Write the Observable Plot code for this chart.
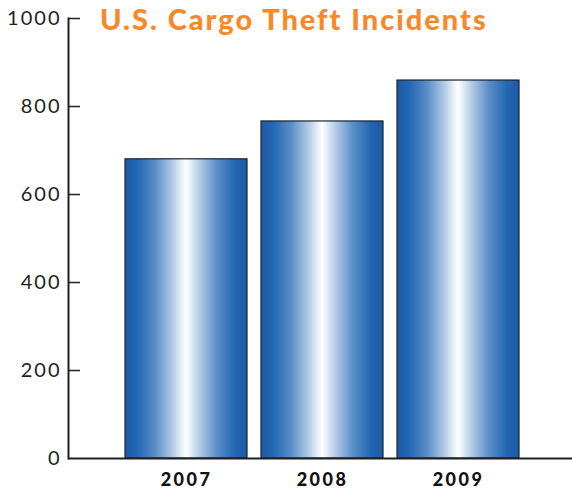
<!DOCTYPE html>
<html>
<head>
<meta charset="utf-8">
<script src="https://cdn.jsdelivr.net/npm/d3@7"></script>
<script src="https://cdn.jsdelivr.net/npm/@observablehq/plot@0.6"></script>
<style>
  html, body { margin: 0; padding: 0; background: #fff; }
  #wrap { position: relative; width: 572px; height: 489px; }
  #title { position: absolute; left: 100px; top: 1px; line-height: normal; font-family: Lato, sans-serif; font-weight: 900; font-size: 29px; color: #F7892A; white-space: nowrap; z-index: 2; }
  .ytick text { letter-spacing: 2px; }
  .xtick text { letter-spacing: 2.5px; }
</style>
</head>
<body>
<div id="wrap">
  <div id="title">U.S. Cargo Theft Incidents</div>
</div>
<script>
const titleText = "U.S. Cargo Theft Incidents";
const years = ["2007", "2008", "2009"];
const incidents = [680, 766, 859];
const yTicks = [0, 200, 400, 600, 800, 1000];
const data = years.map((year, i) => ({year, value: incidents[i]}));

// fit title width to reference (~386px)
(function () {
  const c = document.createElement("canvas").getContext("2d");
  c.font = "900 29px Lato";
  const w = c.measureText(titleText).width;
  const ls = (386 - w) / (titleText.length - 1);
  document.getElementById("title").style.letterSpacing = ls + "px";
})();

const plot = Plot.plot({
  width: 572,
  height: 489,
  marginTop: 18,
  marginBottom: 31,
  marginLeft: 68,
  marginRight: 0,
  style: {fontFamily: "Lato, sans-serif", background: "transparent", overflow: "visible"},
  x: {domain: years, range: [118, 526], paddingInner: 0.1, paddingOuter: 0.05, label: null},
  y: {domain: [0, 1000], label: null},
  marks: [
    Plot.barY(data, {x: "year", y: "value", fill: "url(#barGrad)", stroke: "#1a2230", strokeWidth: 1.2}),
    Plot.axisY(yTicks, {tickSize: 0, tickPadding: 7, fontSize: 20, fill: "#231f20", label: null, tickFormat: d3.format("d"), className: "ytick"}),
    Plot.ruleY(yTicks.filter(d => d > 0), {insetRight: 572 - 68 - 12, stroke: "#231f20", strokeWidth: 1.5}),
    Plot.frame({anchor: "left", stroke: "#231f20", strokeWidth: 2}),
    Plot.ruleY([0], {stroke: "#231f20", strokeWidth: 2}),
    Plot.axisX({tickSize: 0, tickPadding: 15, fontSize: 18, fontWeight: 900, fill: "#111", label: null, className: "xtick"})
  ]
});

const svg = d3.select(plot);
const defs = svg.insert("defs", ":first-child");
const g = defs.append("linearGradient").attr("id", "barGrad").attr("x1", "0%").attr("x2", "100%").attr("y1", "0%").attr("y2", "0%");
[[0, "#1c5aa6"], [0.1, "#2367b2"], [0.25, "#5b8fc8"], [0.4, "#b9d0e8"], [0.5, "#ffffff"], [0.6, "#b9d0e8"], [0.75, "#5b8fc8"], [0.9, "#2367b2"], [1, "#1c5aa6"]]
  .forEach(([o, c]) => g.append("stop").attr("offset", o).attr("stop-color", c));

document.getElementById("wrap").appendChild(plot);
</script>
</body>
</html>
